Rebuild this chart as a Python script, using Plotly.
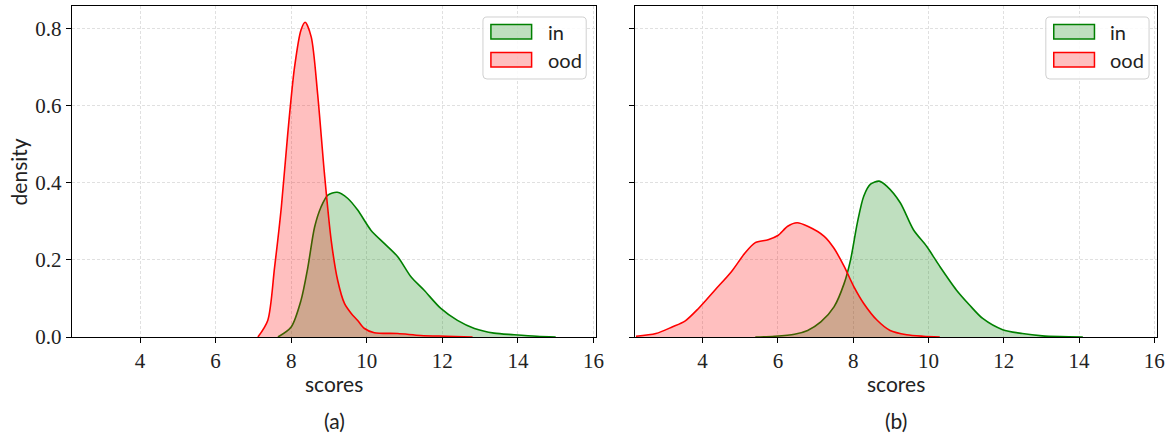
import plotly.graph_objects as go

# ---- data ----
a_in_x = [7.65, 8.0, 8.26, 8.44, 8.62, 8.79, 8.97, 9.22, 9.50, 9.76, 10.11, 10.47, 10.82, 11.17,
          11.52, 11.96, 12.40, 12.85, 13.37, 13.9, 14.5, 15.0]
a_in_y = [0.0, 0.026, 0.095, 0.18, 0.285, 0.337, 0.368, 0.375, 0.359, 0.329, 0.277, 0.242, 0.208,
          0.156, 0.121, 0.074, 0.043, 0.022, 0.010, 0.006, 0.002, 0.0]
a_ood_x = [7.12, 7.38, 7.56, 7.74, 7.91, 8.09, 8.26, 8.37, 8.53, 8.70, 8.88, 9.06, 9.23, 9.41,
           9.59, 9.76, 9.94, 10.2, 10.82, 11.43, 12.1, 12.8]
a_ood_y = [0.0, 0.043, 0.18, 0.337, 0.528, 0.70, 0.796, 0.816, 0.778, 0.63, 0.424, 0.25, 0.147,
           0.087, 0.061, 0.043, 0.022, 0.011, 0.009, 0.004, 0.002, 0.0]

b_in_x = [5.4, 5.91, 6.44, 6.79, 7.14, 7.49, 7.76, 7.93, 8.11, 8.28, 8.46, 8.69, 8.89, 9.25, 9.60,
          9.95, 10.30, 10.74, 11.09, 11.44, 11.97, 12.49, 13.02, 13.5, 14.1]
b_in_y = [0.0, 0.002, 0.007, 0.017, 0.039, 0.078, 0.139, 0.2, 0.296, 0.365, 0.396, 0.404, 0.391,
          0.348, 0.278, 0.235, 0.183, 0.122, 0.083, 0.048, 0.019, 0.009, 0.003, 0.001, 0.0]
b_ood_x = [2.23, 2.76, 3.19, 3.54, 3.89, 4.33, 4.77, 5.12, 5.39, 5.74, 6.0, 6.26, 6.51, 6.79, 7.23,
           7.49, 7.76, 8.02, 8.28, 8.63, 8.98, 9.42, 9.86, 10.3]
b_ood_y = [0.002, 0.009, 0.026, 0.042, 0.074, 0.122, 0.170, 0.217, 0.244, 0.252, 0.263, 0.287,
           0.296, 0.287, 0.261, 0.23, 0.183, 0.130, 0.087, 0.044, 0.017, 0.006, 0.002, 0.0]

x_ticks = [4, 6, 8, 10, 12, 14, 16]
y_ticks = [0.0, 0.2, 0.4, 0.6, 0.8]
y_tick_text = ["0.0", "0.2", "0.4", "0.6", "0.8"]
panel_labels = ["(a)", "(b)"]
series_names = ["in", "ood"]

GREEN = "green"
GREEN_FILL = "rgba(0,128,0,0.25)"
RED = "red"
RED_FILL = "rgba(255,0,0,0.25)"

fig = go.Figure()

def add(x, y, name, line, fill, xa, ya):
    fig.add_trace(go.Scatter(
        x=x, y=y, name=name, mode="lines",
        line=dict(color=line, width=1.6, shape="spline", smoothing=0.8),
        fill="tozeroy", fillcolor=fill,
        xaxis=xa, yaxis=ya, showlegend=False,
    ))

add(a_in_x, a_in_y, series_names[0], GREEN, GREEN_FILL, "x", "y")
add(a_ood_x, a_ood_y, series_names[1], RED, RED_FILL, "x", "y")
add(b_in_x, b_in_y, series_names[0], GREEN, GREEN_FILL, "x2", "y2")
add(b_ood_x, b_ood_y, series_names[1], RED, RED_FILL, "x2", "y2")

L, R, T, B = 72, 4, 6, 96
W, H = 1169, 433
pw = W - L - R
ph = H - T - B
d1 = [0, (600 - L) / pw]
d2 = [(639 - L) / pw, 1]

def px(xp):
    return (xp - L) / pw

def py(yp):
    return (H - B - yp) / ph

tick_font = dict(family="Liberation Serif, DejaVu Serif, serif", size=21, color="#222")
sans = "Lato, Open Sans, sans-serif"

xcommon = dict(range=[2.2, 16.07], tickvals=x_ticks, ticks="outside", ticklen=5, tickwidth=1.2,
               tickcolor="black", showline=True, linecolor="black", linewidth=1.4, mirror=True,
               showgrid=True, gridcolor="#e0e0e0", griddash="3px,2px", gridwidth=0.8,
               zeroline=False, tickfont=tick_font)
ycommon = dict(range=[0, 0.858], tickvals=y_ticks, ticktext=y_tick_text, ticks="outside", ticklen=5,
               tickwidth=1.2, tickcolor="black", showline=True, linecolor="black", linewidth=1.4,
               mirror=True, showgrid=True, gridcolor="#e0e0e0", griddash="3px,2px", gridwidth=0.8,
               zeroline=False, tickfont=tick_font)

fig.update_layout(
    width=W, height=H,
    margin=dict(l=L, r=R, t=T, b=B),
    paper_bgcolor="white", plot_bgcolor="white",
    xaxis=dict(domain=d1, anchor="y", **xcommon),
    yaxis=dict(domain=[0, 1], anchor="x", **ycommon),
    xaxis2=dict(domain=d2, anchor="y2", **xcommon),
    yaxis2=dict(domain=[0, 1], anchor="x2", showticklabels=False, **ycommon),
    showlegend=False,
)

# ---- matplotlib-style legends (rounded frame + rectangular patches) ----
def rounded_rect(x0, y0, x1, y1, r):
    # pixel coords -> paper path
    pts = []
    def P(a, b):
        return f"{px(a):.5f},{py(b):.5f}"
    return (f"M {P(x0 + r, y0)} L {P(x1 - r, y0)} Q {P(x1, y0)} {P(x1, y0 + r)} "
            f"L {P(x1, y1 - r)} Q {P(x1, y1)} {P(x1 - r, y1)} L {P(x0 + r, y1)} "
            f"Q {P(x0, y1)} {P(x0, y1 - r)} L {P(x0, y0 + r)} Q {P(x0, y0)} {P(x0 + r, y0)} Z")

legend_font = dict(family=sans, size=20, color="#222")
for ox in (486, 1053):
    fig.add_shape(type="path", xref="paper", yref="paper",
                  path=rounded_rect(ox, 17, ox + 104, 79, 4),
                  line=dict(color="#d0d0d0", width=1), fillcolor="rgba(255,255,255,0.85)")
    for i, (name, lc, fc) in enumerate([(series_names[0], GREEN, GREEN_FILL),
                                         (series_names[1], RED, RED_FILL)]):
        top = 24.5 + i * 28
        fig.add_shape(type="rect", xref="paper", yref="paper",
                      x0=px(ox + 8), x1=px(ox + 49), y0=py(top), y1=py(top + 14.5),
                      line=dict(color=lc, width=1.5), fillcolor=fc)
        fig.add_annotation(x=px(ox + 63), y=py(top + 7.5), xref="paper", yref="paper",
                           text=name, showarrow=False, font=legend_font,
                           xanchor="left", yanchor="middle")

ann_font = dict(family=sans, size=21, color="#222")
cx1 = (d1[0] + d1[1]) / 2
cx2 = (d2[0] + d2[1]) / 2
for cx, lab in [(cx1, panel_labels[0]), (cx2, panel_labels[1])]:
    fig.add_annotation(x=cx, y=py(383), xref="paper", yref="paper", text="scores",
                       showarrow=False, font=ann_font, xanchor="center", yanchor="middle")
    fig.add_annotation(x=cx, y=py(420), xref="paper", yref="paper", text=lab,
                       showarrow=False, font=ann_font, xanchor="center", yanchor="middle")
fig.add_annotation(x=px(18), y=py(172), xref="paper", yref="paper", text="density",
                   showarrow=False, font=ann_font, textangle=-90, xanchor="center", yanchor="middle")

fig.write_html("out.html")
